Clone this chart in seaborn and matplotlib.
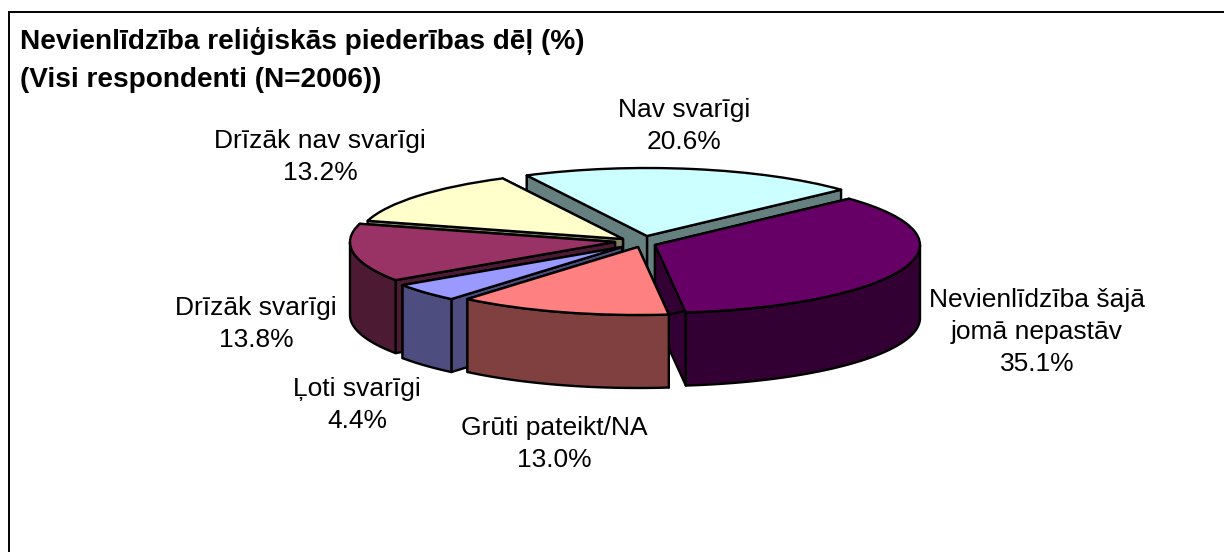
import matplotlib
matplotlib.use("Agg")
import matplotlib.pyplot as plt
from matplotlib.patches import Rectangle
import numpy as np
import seaborn as sns

categories = ["Nav svarīgi", "Nevienlīdzība šajā\njomā nepastāv", "Grūti pateikt/NA",
              "Ļoti svarīgi", "Drīzāk svarīgi", "Drīzāk nav svarīgi"]
values = [20.6, 35.1, 13.0, 4.4, 13.8, 13.2]
title_lines = ["Nevienlīdzība reliģiskās piederības dēļ (%)", "(Visi respondenti (N=2006))"]

top_colors = ["#CCFFFF", "#660066", "#FF8080", "#9999FF", "#993366", "#FFFFCC"]
side_colors = ["#668080", "#330033", "#804040", "#4D4D80", "#4D1A33", "#808066"]

W, H = 1224, 552
RX, RY, DEPTH = 265.0, 68.0, 73.0
CX, CY = 635.0, 241.0
# slice apex positions in pixels (explosion of each slice)
apex_px = [(647, 236), (655, 245), (638, 247), (622, 247), (615, 242), (623, 239)]
label_px = [(684, 126), (1037, 332), (554, 444), (357, 405), (256, 324), (320, 157)]
draw_order = [0, 5, 4, 3, 1, 2]

sns.set_theme(style="white")
plt.rcParams["font.family"] = ["Liberation Sans", "DejaVu Sans"]

fig = plt.figure(figsize=(W / 100, H / 100), dpi=100, facecolor="white")
ax = fig.add_axes([0, 0, 1, 1])
EDGE = dict(edgecolor="black", linewidth=1.7, joinstyle="round")

wedges, _ = ax.pie(values, startangle=117, counterclock=False, colors=top_colors,
                   wedgeprops=EDGE)
ax.set_aspect("auto")
ax.set_xlim(-CX / RX, (W - CX) / RX)
ax.set_ylim((CY - H) / RY, CY / RY)
ax.set_axis_off()

d = DEPTH / RY
for z, i in enumerate(draw_order):
    w = wedges[i]
    ax_, ay_ = (apex_px[i][0] - CX) / RX, (CY - apex_px[i][1]) / RY
    w.set_center((ax_, ay_))
    w.set_zorder(3 * z + 3)
    t1, t2 = w.theta1, w.theta2
    # the two cut faces
    for t in (t1, t2):
        ex, ey = ax_ + np.cos(np.radians(t)), ay_ + np.sin(np.radians(t))
        ax.fill([ax_, ex, ex, ax_], [ay_, ey, ey - d, ay_ - d], facecolor=side_colors[i],
                zorder=3 * z + 1, **EDGE)
    # outer rim, front half only
    lo, hi = t1 % 360, t2 % 360
    if hi <= lo:
        hi += 360
    segs = [(max(lo, a), min(hi, b)) for a, b in ((180, 360), (540, 720)) if max(lo, a) < min(hi, b)]
    for a, b in segs:
        th = np.radians(np.linspace(a, b, 80))
        xs = ax_ + np.cos(th)
        ys = ay_ + np.sin(th)
        ax.fill(np.r_[xs, xs[::-1]], np.r_[ys, ys[::-1] - d], facecolor=side_colors[i],
                zorder=3 * z + 2, **EDGE)

for name, v, (x, y) in zip(categories, values, label_px):
    fig.text(x / W, 1 - y / H, f"{name}\n{v:.1f}%", ha="center", va="center",
             fontsize=19, color="black", linespacing=1.4)

fig.text(20 / W, 1 - 41 / H, title_lines[0], fontsize=20.2, fontweight="bold", color="black",
         ha="left", va="center")
fig.text(20 / W, 1 - 80 / H, title_lines[1], fontsize=20.2, fontweight="bold", color="black",
         ha="left", va="center")

fig.add_artist(Rectangle((8.5 / W, -0.1), 1.1, 1.1 - 11.5 / H, transform=fig.transFigure,
                         fill=False, edgecolor="black", linewidth=1.4))
fig.savefig("out.png", dpi=100, facecolor="white")
